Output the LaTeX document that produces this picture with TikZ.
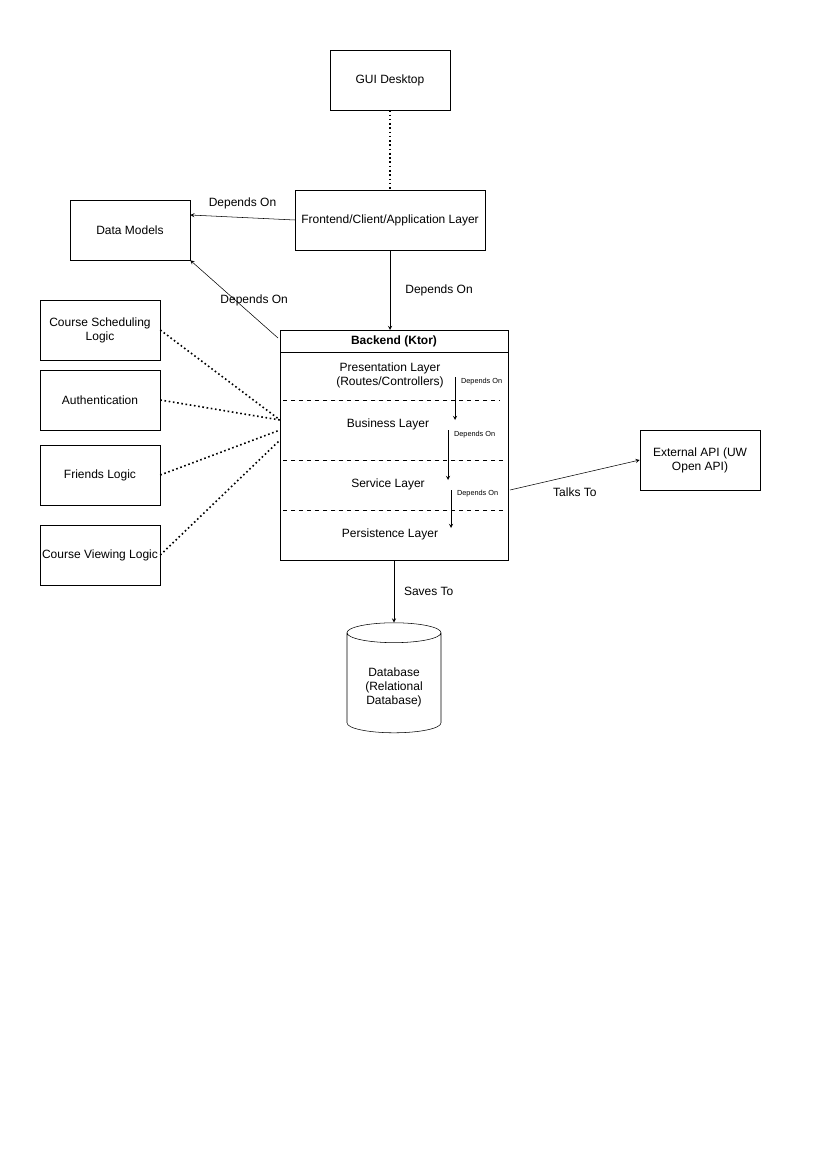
\documentclass[tikz,border=0pt]{standalone}
\usepackage{fontspec}
\setmainfont{Liberation Sans}
\usetikzlibrary{shapes.geometric}
\begin{document}
\begin{tikzpicture}[x=0.75pt, y=-0.75pt, >=stealth, font=\fontsize{9}{10.5}\selectfont]

        % Page frame
        \useasboundingbox (0,0) rectangle (827,1169);

        \tikzset{
            box/.style={draw, minimum width=90pt, minimum height=45pt, align=center, inner sep=1pt},
            lbl/.style={font=\fontsize{9}{10.5}\selectfont},
            tiny/.style={font=\fontsize{5.5}{6}\selectfont},
            dots/.style={dotted, line width=1.2pt}
        }

        % Top boxes
        \node[box] (gui) at (390,80) {GUI Desktop};
        \node[box, minimum width=142.5pt] (front) at (390,220) {Frontend/Client/Application Layer};
        \node[box] (models) at (130,230) {Data Models};

        % Left logic boxes
        \node[box] (sched) at (100,330) {Course Scheduling\\Logic};
        \node[box] (auth) at (100,400) {Authentication};
        \node[box] (friends) at (100,475) {Friends Logic};
        \node[box] (view) at (100,555) {Course Viewing Logic};

        % Backend container
        \draw (280,330) rectangle (508,560);
        \draw (280,352) -- (508,352);
        \node[font=\fontsize{9}{10.5}\selectfont\bfseries] (back) at (394,341) {Backend (Ktor)};
        \coordinate (btop) at (390,330);
        \coordinate (bbot) at (394,560);
        \coordinate (bleft) at (278,338);
        \coordinate (bright) at (510,490);
        \coordinate (hub) at (280,420);
        \draw[dashed] (283,400) -- (500,400);
        \draw[dashed] (283,460) -- (503,460);
        \draw[dashed] (283,510) -- (503,510);

        % Layers
        \node[align=center] (pres) at (390,375) {Presentation Layer\\(Routes/Controllers)};
        \node (bus) at (388,424) {Business Layer};
        \node (serv) at (388,484) {Service Layer};
        \node (pers) at (390,534) {Persistence Layer};
        \draw[->] (455,377) -- (455,420) node[tiny, pos=0.1, right=1pt] {Depends On};
        \draw[->] (448,430) -- (448,480) node[tiny, pos=0.1, right=1pt] {Depends On};
        \draw[->] (451,490) -- (451,528) node[tiny, pos=0.1, right=1pt] {Depends On};

        % Other boxes
        \node[box] (ext) at (700,460) {External API (UW\\Open API)};
        \node[draw, cylinder, shape border rotate=90, aspect=0.3, minimum width=70.5pt, minimum height=82.5pt, align=center] (db) at (394,685) {\\Database\\(Relational\\Database)};

        % Connectors
        \draw[dots] (gui) -- (front);
        \draw[->] (front.west) -- (models.east |- 0,215) node[lbl, midway, above=3pt] {Depends On};
        \draw[->] (bleft) -- (models.south east) node[lbl, pos=0.15, left=8pt, above=12pt] {Depends On};
        \draw[->] (front) -- (btop) node[lbl, midway, right=8pt] {Depends On};
        \draw[dots] (sched.east) -- (hub);
        \draw[dots] (auth.east) -- (hub);
        \draw[dots] (friends.east) -- (280,430);
        \draw[dots] (view.east) -- (280,440);
        \draw[->] (bright) -- (ext.west) node[lbl, midway, below=6pt] {Talks To};
        \draw[->] (bbot) -- (db.top) node[lbl, midway, right=4pt] {Saves To};

    \end{tikzpicture}
\end{document}
